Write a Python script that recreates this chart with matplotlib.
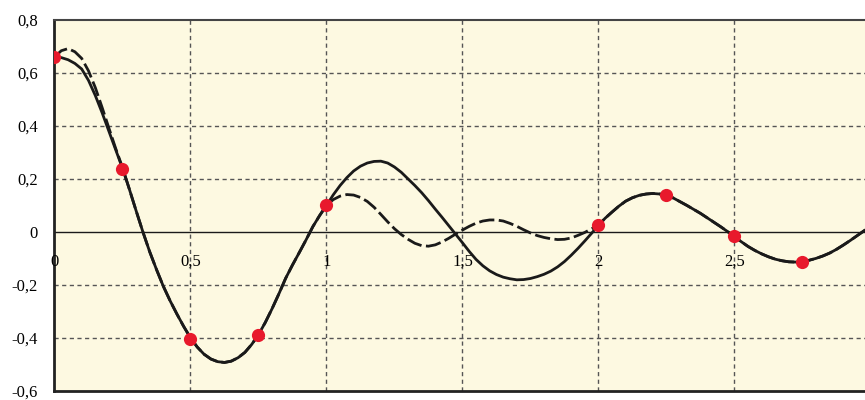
import numpy as np
import matplotlib
matplotlib.use("Agg")
import matplotlib.pyplot as plt

# sample positions along t, step 0.025 from 0 to 3
t = np.round(np.arange(121) * 0.025, 3)

# exact response (solid line)
exact = [0.660, 0.658, 0.650, 0.636, 0.615, 0.572, 0.515, 0.450, 0.380, 0.310,
         0.240, 0.162, 0.080, 0.000, -0.075, -0.142, -0.205, -0.260, -0.310, -0.357,
         -0.400, -0.435, -0.462, -0.480, -0.490, -0.493, -0.488, -0.475, -0.455, -0.425,
         -0.388, -0.342, -0.290, -0.234, -0.175, -0.125, -0.078, -0.030, 0.020, 0.062,
         0.100, 0.140, 0.175, 0.205, 0.230, 0.248, 0.260, 0.266, 0.267, 0.260,
         0.245, 0.225, 0.200, 0.175, 0.148, 0.118, 0.086, 0.055, 0.023, -0.009,
         -0.041, -0.074, -0.104, -0.128, -0.147, -0.161, -0.171, -0.177, -0.181, -0.180,
         -0.176, -0.169, -0.160, -0.148, -0.132, -0.112, -0.088, -0.062, -0.034, -0.005,
         0.025, 0.052, 0.075, 0.097, 0.116, 0.129, 0.138, 0.143, 0.145, 0.143,
         0.139, 0.128, 0.114, 0.100, 0.085, 0.070, 0.053, 0.036, 0.019, 0.001,
         -0.018, -0.037, -0.055, -0.070, -0.083, -0.094, -0.103, -0.109, -0.113, -0.114,
         -0.112, -0.107, -0.100, -0.091, -0.080, -0.066, -0.050, -0.033, -0.015, 0.003,
         0.020]

# reconstruction (dashed line): differs from the exact one on 0..0.25 and 1..2
approx_head = [0.660, 0.684, 0.692, 0.680, 0.655, 0.608, 0.545, 0.470, 0.392, 0.315, 0.243]
approx_mid = [0.100, 0.122, 0.135, 0.141, 0.139, 0.130, 0.115, 0.093, 0.066, 0.038,
              0.012, -0.010, -0.028, -0.043, -0.052, -0.054, -0.049, -0.038, -0.024, -0.008,
              0.007, 0.021, 0.033, 0.041, 0.045, 0.045, 0.041, 0.032, 0.021, 0.008,
              -0.004, -0.014, -0.021, -0.026, -0.029, -0.028, -0.023, -0.013, -0.002, 0.012,
              0.025]
approx = approx_head + exact[11:40] + approx_mid + exact[81:]

# sampling points
ts = [0.00, 0.25, 0.50, 0.75, 1.00, 2.00, 2.25, 2.50, 2.75]
ys = [0.661, 0.239, -0.405, -0.388, 0.101, 0.025, 0.139, -0.015, -0.115]

xticks = [0, 0.5, 1, 1.5, 2, 2.5]
xlabels = ["0", "0,5", "1", "1,5", "2", "2,5"]
yticks = [-0.6, -0.4, -0.2, 0, 0.2, 0.4, 0.6, 0.8]
ylabels = ["-0,6", "-0,4", "-0,2", "0", "0,2", "0,4", "0,6", "0,8"]

plt.rcParams['font.family'] = ['Liberation Serif', 'DejaVu Serif']

fig = plt.figure(figsize=(8.65, 4.0), dpi=100)
ax = fig.add_axes([0.063, 0.023, 0.937, 0.927])
ax.set_facecolor('#fdf9e1')

ax.set_xlim(0, 2.98)
ax.set_ylim(-0.6, 0.8)

# grid
for x in xticks[1:]:
    ax.axvline(x, color='#555555', lw=1.0, ls=(0, (3, 2.5)), zorder=1)
for y in yticks:
    if y not in (-0.6, 0, 0.8):
        ax.axhline(y, color='#555555', lw=1.0, ls=(0, (3, 2.5)), zorder=1)
ax.axhline(0, color='#1a1a1a', lw=1.0, zorder=2)

ax.plot(t, exact, color='#1a1a1a', lw=2.0, zorder=3)
ax.plot(t, approx, color='#1a1a1a', lw=2.0, dashes=(5.5, 1.6), zorder=3)
ax.plot(ts, ys, 'o', color='#e8192c', ms=9.5, mec='none', zorder=4)

ax.set_xticks([])
ax.set_yticks(yticks)
ax.set_yticklabels(ylabels, fontsize=12)
ax.tick_params(axis='y', length=0, pad=12)

for x, lab in zip(xticks, xlabels):
    ax.annotate(lab, (x, 0), xytext=(0, -16), textcoords='offset points',
                ha='center', va='top', fontsize=12)

for side in ['left', 'bottom']:
    ax.spines[side].set_color('#222222')
    ax.spines[side].set_linewidth(2.0)
ax.spines['top'].set_color('#444444')
ax.spines['top'].set_linewidth(1.5)
ax.spines['right'].set_visible(False)

fig.savefig('out.png', dpi=100)
